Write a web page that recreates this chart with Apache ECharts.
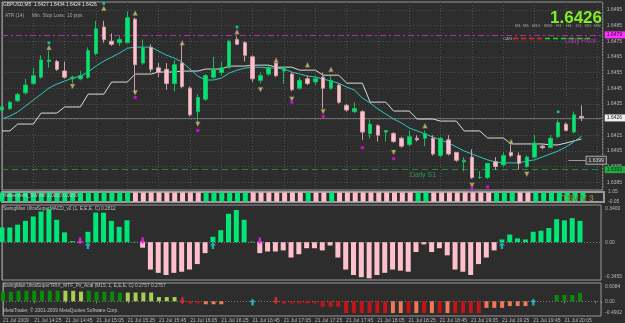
<!DOCTYPE html>
<html><head><meta charset="utf-8">
<script src="https://cdn.jsdelivr.net/npm/echarts/dist/echarts.min.js"></script>
<style>html,body{margin:0;padding:0;background:#2d2d2d}#c{width:625px;height:323px}</style>
</head><body><div id="c"></div><script>
// ---------- DATA ----------
const timeLabels = ['21 Jul 2009','21 Jul 14:25','21 Jul 14:45','21 Jul 15:05','21 Jul 15:25','21 Jul 15:45','21 Jul 16:05','21 Jul 16:25','21 Jul 16:45','21 Jul 17:05','21 Jul 17:25','21 Jul 17:45','21 Jul 18:05','21 Jul 18:25','21 Jul 18:45','21 Jul 19:05','21 Jul 19:25','21 Jul 19:45','21 Jul 20:05'];
const open  = [1.6431,1.6432,1.6437,1.6442,1.6448,1.6452,1.6462,1.6462,1.6456,1.6451,1.6451,1.6452,1.6467,1.6484,1.6475,1.6474,1.6474,1.6489,1.6461,1.6471,1.6458,1.6457,1.6448,1.6461,1.6445,1.6430,1.6438,1.6452,1.6455,1.6458,1.6476,1.6474,1.6465,1.6450,1.6454,1.6461,1.6456,1.6454,1.6445,1.6451,1.6449,1.6452,1.6445,1.6447,1.6434,1.6430,1.6430,1.6416,1.6421,1.6417,1.6416,1.6413,1.6409,1.6413,1.6413,1.6413,1.6402,1.6412,1.6404,1.6398,1.6401,1.6388,1.6388,1.6398,1.6396,1.6404,1.6402,1.6395,1.6401,1.6408,1.6407,1.6414,1.6422,1.6417,1.6427];
const high  = [1.6434,1.6437,1.6442,1.6451,1.6458,1.6466,1.6469,1.6463,1.6462,1.6453,1.6456,1.6471,1.6488,1.6488,1.6480,1.6478,1.6494,1.6490,1.6476,1.6473,1.6461,1.6461,1.6463,1.6473,1.6446,1.6441,1.6454,1.6465,1.6462,1.6476,1.6478,1.6475,1.6466,1.6455,1.6460,1.6462,1.6459,1.6455,1.6452,1.6453,1.6453,1.6455,1.6453,1.6448,1.6435,1.6436,1.6431,1.6425,1.6422,1.6418,1.6417,1.6414,1.6418,1.6415,1.6418,1.6415,1.6414,1.6415,1.6404,1.6401,1.6406,1.6392,1.6397,1.6401,1.6404,1.6409,1.6404,1.6402,1.6415,1.6409,1.6415,1.6425,1.6423,1.6430,1.6434];
const low   = [1.6430,1.6431,1.6436,1.6441,1.6447,1.6451,1.6458,1.6456,1.6451,1.6448,1.6450,1.6451,1.6466,1.6474,1.6472,1.6472,1.6474,1.6442,1.6460,1.6455,1.6452,1.6444,1.6443,1.6445,1.6427,1.6423,1.6437,1.6451,1.6453,1.6458,1.6473,1.6462,1.6449,1.6448,1.6453,1.6452,1.6448,1.6443,1.6444,1.6447,1.6447,1.6432,1.6444,1.6435,1.6430,1.6429,1.6412,1.6413,1.6411,1.6411,1.6410,1.6407,1.6408,1.6411,1.6408,1.6402,1.6401,1.6402,1.6398,1.6392,1.6387,1.6387,1.6387,1.6393,1.6395,1.6401,1.6393,1.6394,1.6400,1.6406,1.6407,1.6413,1.6418,1.6416,1.6424];
const close = [1.6433,1.6436,1.6441,1.6447,1.6453,1.6463,1.6463,1.6457,1.6452,1.6452,1.6453,1.6469,1.6483,1.6476,1.6473,1.6476,1.6490,1.6460,1.6471,1.6457,1.6455,1.6448,1.6460,1.6446,1.6428,1.6439,1.6453,1.6457,1.6458,1.6475,1.6473,1.6466,1.6451,1.6453,1.6458,1.6453,1.6458,1.6444,1.6450,1.6448,1.6451,1.6445,1.6450,1.6436,1.6431,1.6432,1.6417,1.6422,1.6415,1.6418,1.6411,1.6408,1.6414,1.6412,1.6416,1.6403,1.6413,1.6403,1.6399,1.6399,1.6388,1.6388,1.6397,1.6395,1.6402,1.6402,1.6397,1.6401,1.6410,1.6407,1.6413,1.6423,1.6418,1.6428,1.6426];
const maFast = [1.64253,1.64272,1.64298,1.64336,1.64374,1.64412,1.64451,1.64476,1.64495,1.64514,1.64527,1.64553,1.64591,1.64623,1.64648,1.64674,1.64705,1.64712,1.64712,1.64712,1.64686,1.64661,1.64642,1.64616,1.64572,1.64527,1.64502,1.64502,1.64514,1.64546,1.64565,1.64578,1.64584,1.64584,1.64578,1.64578,1.64572,1.64553,1.64540,1.64527,1.64521,1.64508,1.64495,1.64482,1.64457,1.64438,1.64387,1.64355,1.64317,1.64285,1.64253,1.64228,1.64196,1.64177,1.64158,1.64138,1.64119,1.64100,1.64075,1.64049,1.64030,1.64011,1.63992,1.63979,1.63973,1.63973,1.63973,1.63986,1.63992,1.64011,1.64030,1.64049,1.64075,1.64107,1.64145];
const maMtf  = [1.64177,1.64177,1.64221,1.64221,1.64221,1.64291,1.64291,1.64291,1.64330,1.64330,1.64330,1.64412,1.64412,1.64412,1.64489,1.64489,1.64489,1.64540,1.64540,1.64540,1.64553,1.64553,1.64553,1.64559,1.64559,1.64559,1.64572,1.64572,1.64572,1.64591,1.64591,1.64591,1.64597,1.64597,1.64597,1.64584,1.64584,1.64584,1.64565,1.64565,1.64565,1.64533,1.64533,1.64533,1.64482,1.64482,1.64482,1.64361,1.64361,1.64361,1.64304,1.64304,1.64304,1.64253,1.64253,1.64253,1.64240,1.64240,1.64240,1.64177,1.64177,1.64177,1.64132,1.64132,1.64132,1.64094,1.64094,1.64094,1.64094,1.64094,1.64088,1.64088,1.64100,1.64113,1.64126];
const upArrowBar = [6,13,17,23,30,35,39,42,54,65];
const upArrowPrice = [1.6471,1.6496,1.6493,1.6474,1.6481,1.6463,1.6460,1.6457,1.6421,1.6411];
const dnArrowBar = [9,17,25,33,37,41,50,60,67];
const dnArrowPrice = [1.6446,1.6442,1.6422,1.6444,1.6438,1.6430,1.6404,1.6383,1.6390];
const dotBar = [6,13,30,71];
const dotPrice = [1.6474,1.6499,1.6484,1.6430];
const sqBar = [17,25,37,41,46,50,60,62];
const sqPrice = [1.6439,1.6418,1.6436,1.6427,1.6407,1.6400,1.6381,1.6382];
const dailyPivot = 1.6479, dailyS1 = 1.6393, lastPrice = 1.6426, hLine = 1.6399;
const haDir = [1,1,1,1,1,1,1,1,1,1,1,1,1,1,1,1,1,-1,-1,-1,-1,-1,-1,-1,-1,-1,1,1,1,1,1,1,-1,-1,-1,-1,-1,-1,-1,1,-1,-1,1,-1,-1,-1,-1,-1,-1,-1,-1,-1,-1,1,1,-1,-1,-1,-1,-1,-1,-1,-1,1,1,1,-1,-1,1,1,1,1,1,1,1];
const macd = [0.135,0.135,0.16,0.195,0.235,0.28,0.30,0.205,0.09,0.01,0.003,0.095,0.27,0.27,0.195,0.14,0.20,0.003,-0.05,-0.25,-0.28,-0.30,-0.28,-0.27,-0.25,-0.20,-0.10,0.05,0.11,0.26,0.295,0.205,0.005,-0.10,-0.085,-0.085,-0.075,-0.14,-0.11,-0.055,-0.055,-0.075,-0.03,-0.14,-0.25,-0.30,-0.32,-0.33,-0.30,-0.28,-0.25,-0.26,-0.27,-0.09,-0.02,-0.09,-0.055,-0.12,-0.25,-0.27,-0.30,-0.20,-0.14,-0.075,0.025,0.07,0.035,0.025,0.095,0.105,0.13,0.21,0.20,0.22,0.195];
const macdDnBar = [10,18,33], macdUpBar = [11,27,64];
const trix = [0.32,0.32,0.35,0.35,0.35,0.35,0.35,0.35,0.35,0.35,0.32,0.35,0.32,0.32,0.32,0.29,0.29,0.29,0.29,0.29,0.14,0.14,0.14,0,-0.07,-0.07,-0.10,-0.10,-0.10,0,0,0,0,0.02,0,0,-0.07,-0.07,-0.07,-0.07,-0.07,-0.18,-0.18,-0.18,-0.39,-0.39,-0.39,-0.39,-0.39,-0.39,-0.39,-0.39,-0.39,-0.39,-0.39,-0.39,-0.39,-0.39,-0.39,-0.39,-0.39,-0.39,-0.22,-0.22,-0.22,-0.16,-0.16,-0.16,0,0,0,0.21,0.21,0.21,0.28];
const trixState = [2,2,2,2,2,2,2,2,1,1,1,2,2,2,2,2,1,1,1,1,1,1,1,0,-2,-2,-1,-1,-1,0,0,0,0,2,0,0,-2,-2,-2,-2,-2,-2,-2,-2,-2,-2,-2,-2,-2,-2,-1,-1,-2,-1,-2,-1,-2,-1,-2,-2,-2,-2,-1,-1,-1,-1,-1,-1,0,0,0,2,2,2,2];
const trixDnBar = [23,35], trixUpBar = [32,68];

// ---------- STYLE ----------
const F = '"Liberation Sans", Arial, sans-serif';
const GRIDC = '#4f4f4f', TXT = '#b8b8b8', BORDER = '#9a9a9a';
const GREEN = '#00e676', PINK = '#ffc0cb';
const xMax = 76.69;
const dnPath = 'path://M3,0 L7,0 L7,5 L10,5 L5,10 L0,5 L3,5 Z';
const upPath = 'path://M5,0 L10,5 L7,5 L7,10 L3,10 L3,5 L0,5 Z';

const chart = echarts.init(document.getElementById('c'), null, {renderer:'canvas', width:625, height:323});

function xAx(g, showLabel, showSplit) {
  return {type:'value', gridIndex:g, min:0, max:xMax, interval:4,
    axisLine:{show:false}, axisTick:{show:showLabel, length:2, lineStyle:{color:'#909090'}},
    splitLine:{show:showSplit, lineStyle:{color:GRIDC, type:[1,2]}},
    axisLabel:{show:showLabel, fontSize:5, fontFamily:F, color:TXT, align:'left', margin:2,
      formatter: v => timeLabels[Math.round(v/4)] || ''}};
}
const lblRich = {t:{padding:[8,0,0,0], fontSize:5, color:TXT, fontFamily:F}, b:{padding:[0,0,7,0], fontSize:5, color:TXT, fontFamily:F}, m:{fontSize:5, color:TXT, fontFamily:F}};

const option = {
  backgroundColor:'#2d2d2d',
  animation:false,
  grid:[
    {left:2, top:2, width:602, height:188, show:true, borderColor:BORDER, borderWidth:1},
    {left:2, top:192, width:602, height:10, show:true, borderColor:BORDER, borderWidth:2},
    {left:2, top:205, width:602, height:75, show:true, borderColor:BORDER, borderWidth:1},
    {left:2, top:283, width:602, height:33, show:true, borderColor:BORDER, borderWidth:1}
  ],
  xAxis:[xAx(0,false,true), xAx(1,false,false), xAx(2,false,false), xAx(3,true,false)],
  yAxis:[
    {type:'value', gridIndex:0, position:'right', min:1.6380, max:1.6500, interval:0.0005,
      axisLine:{show:true, lineStyle:{color:'#8a8a8a'}}, axisTick:{show:false},
      splitLine:{show:true, showMinLine:true, showMaxLine:true, lineStyle:{color:['rgba(0,0,0,0)', GRIDC], type:[1,2]}},
      axisLabel:{fontSize:5, fontFamily:F, color:TXT, margin:4, formatter: v => (Math.round(v*10000)%10===5 ? v.toFixed(4) : '')}},
    {type:'value', gridIndex:1, position:'right', min:-0.05, max:1.05, interval:1.1,
      axisLine:{show:true, lineStyle:{color:'#8a8a8a'}}, axisTick:{show:false}, splitLine:{show:false},
      axisLabel:{fontSize:5, fontFamily:F, color:TXT, margin:4, formatter: v => v.toFixed(2)}},
    {type:'value', gridIndex:2, position:'right', min:-0.3455, max:0.34, interval:0.3455,
      axisLine:{show:true, lineStyle:{color:'#8a8a8a'}}, axisTick:{show:false},
      splitLine:{show:true, showMinLine:true, showMaxLine:true, lineStyle:{color:['rgba(0,0,0,0)','#808080','rgba(0,0,0,0)'], type:[1,2]}},
      axisLabel:{margin:4, rich:lblRich, formatter: v => Math.abs(v)<1e-9 ? '{m|0.00}' : (v>0 ? '{t|'+v.toFixed(4)+'}' : '{b|'+v.toFixed(4)+'}')}},
    {type:'value', gridIndex:3, position:'right', min:-0.4902, max:0.6084, interval:0.4902,
      axisLine:{show:true, lineStyle:{color:'#8a8a8a'}}, axisTick:{show:false},
      splitLine:{show:true, showMinLine:true, showMaxLine:true, lineStyle:{color:['rgba(0,0,0,0)','#808080','rgba(0,0,0,0)','rgba(0,0,0,0)'], type:[1,2]}},
      axisLabel:{margin:4, rich:lblRich, formatter: v => Math.abs(v)<1e-9 ? '{m|0.00}' : (v>0.55 ? '{t|'+v.toFixed(4)+'}' : (v<0 ? '{b|'+v.toFixed(4)+'}' : ''))}}
  ],
  series:[
    {type:'line', xAxisIndex:0, yAxisIndex:0, data: maMtf.map((v,i)=>[i,v]), showSymbol:false, lineStyle:{color:'#dcdcdc', width:1}, z:2},
    {type:'line', xAxisIndex:0, yAxisIndex:0, data: maFast.map((v,i)=>[i,v]), showSymbol:false, lineStyle:{color:'#2cc9c0', width:1}, z:2},
    {type:'candlestick', xAxisIndex:0, yAxisIndex:0, barWidth:4,
      encode:{x:0, y:[1,2,3,4]},
      data: open.map((o,i)=>[i,o,close[i],low[i],high[i]]),
      itemStyle:{color:GREEN, color0:PINK, borderColor:'#1fb860', borderColor0:'#c8a0a6', borderWidth:1}, z:3,
      markLine:{silent:true, symbol:['none','none'], animation:false, precision:5, z:1,
        data:[
          {yAxis:dailyPivot, lineStyle:{color:'#b030b0', type:[6,3,2,3], width:1},
            label:{show:true, position:'end', distance:2, formatter:dailyPivot.toFixed(4), backgroundColor:'#ff33ff', color:'#3a003a', fontSize:5, fontFamily:F, padding:[1,3,1,2]}},
          {yAxis:dailyS1, lineStyle:{color:'#1f8f3c', type:[6,4], width:1},
            label:{show:true, position:'end', distance:2, formatter:dailyS1.toFixed(4), backgroundColor:'#22aa44', color:'#002a00', fontSize:5, fontFamily:F, padding:[1,3,1,2]}},
          {yAxis:lastPrice, lineStyle:{color:'#6c6c6c', type:'solid', width:1},
            label:{show:true, position:'end', distance:2, formatter:lastPrice.toFixed(4), backgroundColor:'#eeeeee', color:'#222', fontSize:5, fontFamily:F, padding:[1,3,1,2]}},
          [{coord:[72.3,hLine], lineStyle:{color:'#9a9a9a', type:'solid', width:1}},
           {coord:[74.5,hLine], label:{show:true, position:'end', distance:1, formatter:hLine.toFixed(4), backgroundColor:'#3a3a3a', borderColor:'#aaaaaa', borderWidth:1, color:'#dddddd', fontSize:5, fontFamily:F, padding:[1,2]}}]
        ]}},
    {type:'scatter', xAxisIndex:0, yAxisIndex:0, data: upArrowBar.map((b,k)=>[b,upArrowPrice[k]]), symbol:'triangle', symbolSize:[5,5], itemStyle:{color:'#d4c688', borderColor:'#6a6030', borderWidth:0.5}, z:5},
    {type:'scatter', xAxisIndex:0, yAxisIndex:0, data: dnArrowBar.map((b,k)=>[b,dnArrowPrice[k]]), symbol:'triangle', symbolRotate:180, symbolSize:[5,5], itemStyle:{color:'#d4c688', borderColor:'#6a6030', borderWidth:0.5}, z:5},
    {type:'scatter', xAxisIndex:0, yAxisIndex:0, data: dotBar.map((b,k)=>[b,dotPrice[k]]), symbol:'circle', symbolSize:3, itemStyle:{color:'#00e8c8'}, z:5},
    {type:'scatter', xAxisIndex:0, yAxisIndex:0, data: sqBar.map((b,k)=>[b,sqPrice[k]]), symbol:'rect', symbolSize:3, itemStyle:{color:'#ff00ff'}, z:5},
    {type:'bar', xAxisIndex:1, yAxisIndex:1, barWidth:5, data: haDir.map((d,i)=>({value:[i,1], itemStyle:{color: d>0?GREEN:PINK}}))},
    {type:'bar', xAxisIndex:2, yAxisIndex:2, barWidth:5, data: macd.map((v,i)=>({value:[i,v], itemStyle:{color: v>=0?GREEN:PINK}}))},
    {type:'scatter', xAxisIndex:2, yAxisIndex:2, data: macdDnBar.map(b=>[b,0.01]), symbol:dnPath, symbolSize:[6,7], itemStyle:{color:'#ff22ff'}, z:5},
    {type:'scatter', xAxisIndex:2, yAxisIndex:2, data: macdUpBar.map(b=>[b,-0.03]), symbol:upPath, symbolSize:[6,7], itemStyle:{color:'#22c8d8'}, z:5},
    {type:'bar', xAxisIndex:3, yAxisIndex:3, barWidth:4, data: trix.map((v,i)=>({value:[i,v], itemStyle:{color: ({'2':'#0a8a0a','1':'#a6d050','0':'#777','-1':'#f07858','-2':'#c41414'})[String(trixState[i])]}}))},
    {type:'scatter', xAxisIndex:3, yAxisIndex:3, data: trixDnBar.map(b=>[b,0.02]), symbol:dnPath, symbolSize:[6,7], itemStyle:{color:'#ff2a2a'}, z:5},
    {type:'scatter', xAxisIndex:3, yAxisIndex:3, data: trixUpBar.map(b=>[b,-0.02]), symbol:upPath, symbolSize:[6,7], itemStyle:{color:'#22c8d8'}, z:5}
  ],
  graphic:[]
};

const g = option.graphic;
function T(text, x, y, size, color, bold, align) {
  g.push({type:'text', x:x, y:y, silent:true, z:100, style:{text:text, fill:color, font:(bold?'bold ':'')+size+'px '+F, textAlign:align||'left', textVerticalAlign:'middle'}});
}
T('GBPUSD,M5  1.6427 1.6434 1.6424 1.6426', 3, 5, 4.8, '#e4e4e4');
T('ATR (14)', 5, 16, 4.8, '#a8a8a8');
T('Min. Stop Loss:', 32, 16, 4.8, '#a8a8a8');
T('10 pips', 67, 16, 4.8, '#a8a8a8');
T('1.6426', 602, 18, 17, '#80f020', true, 'right');
const tfs = ['M1','M5','M15','M30','H1','H4','D1','W1','MN'];
const tfx = [515,523,532,544,556,566,576,585,594];
tfs.forEach((t,k)=>T(t, tfx[k], 26, 4.3, '#a0a0a0'));
T('CAN', 503, 38.5, 4.3, '#a8a8a8');
g.push({type:'line', silent:true, z:99, shape:{x1:513,y1:38.5,x2:543,y2:38.5}, style:{stroke:'#ff2020', lineWidth:1.5, lineDash:[5,3]}});
g.push({type:'line', silent:true, z:99, shape:{x1:545,y1:38.5,x2:590,y2:38.5}, style:{stroke:'#10e010', lineWidth:1.5, lineDash:[5,3]}});
T('Daily Pivot', 565, 41, 6.5, '#c030c0');
T('Daily S1', 410, 175, 7, '#2e9a50');
T('HeikenAshi_SW Mtf 1.0000 0.0000', 3, 196, 4.8, '#c8c8c8');
T('TSV V 3', 562, 199, 8.5, '#8a7d2a', true);
T('SwingMan UltraSuperMACD_v2 (1, E,E,E, C) 0.2812', 3, 209, 4.8, '#c0c0c0');
T('SwingMan UltraSuperTRIX_MTF_Px_Acal (M15, 1, E,E,E, C) 0.2757 0.2757', 3, 286, 4.8, '#c0c0c0');
T('MetaTrader, \u00a9 2001-2009 MetaQuotes Software Corp.', 3, 311, 4.8, '#c0c0c0');

chart.setOption(option);
</script></body></html>
